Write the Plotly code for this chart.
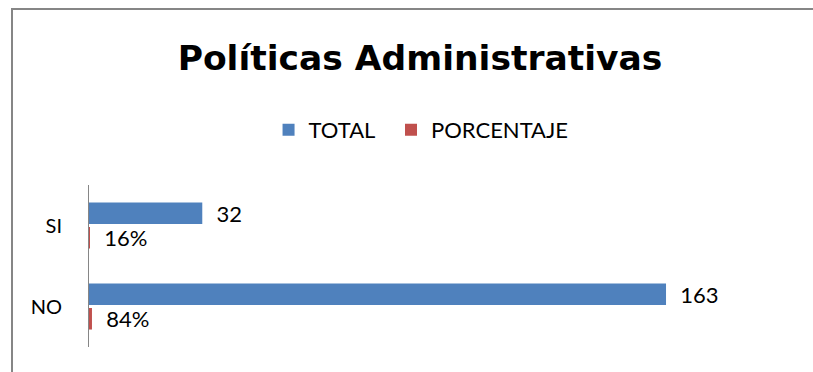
import plotly.graph_objects as go

categories = ["SI", "NO"]
total = [32, 163]
porcentaje = [0.16, 0.84]
series_names = ["TOTAL", "PORCENTAJE"]

FONT = "Lato"
TITLE_FONT = "DejaVu Sans"
PAD = "\u00a0" * 2

fig = go.Figure()
fig.add_trace(go.Bar(
    name=series_names[0] + "\u00a0\u00a0", y=categories, x=total, orientation="h",
    marker=dict(color="#4F81BD", line=dict(width=0)),
    text=total, texttemplate=PAD + "%{x}", textposition="outside",
    textfont=dict(family=FONT, size=22, color="#000000"),
    constraintext="none", cliponaxis=False,
))
fig.add_trace(go.Bar(
    name=series_names[1], y=categories, x=porcentaje, orientation="h",
    marker=dict(color="#C0504D", line=dict(width=0)),
    text=porcentaje, texttemplate=PAD + "%{x:.0%}", textposition="outside",
    textfont=dict(family=FONT, size=22, color="#000000"),
    constraintext="none", cliponaxis=False,
))

fig.update_layout(
    width=813, height=372,
    margin=dict(l=89, r=16, t=185, b=25),
    paper_bgcolor="#FFFFFF", plot_bgcolor="#FFFFFF",
    font=dict(family=FONT, color="#000000"),
    barmode="group", bargap=0.395, bargroupgap=0.12,
    title=dict(
        text="<b>Políticas Administrativas</b>",
        font=dict(family=TITLE_FONT, size=34.5, color="#000000"),
        x=420 / 813, xanchor="center", xref="container",
        y=1 - 58 / 372, yanchor="middle", yref="container",
    ),
    legend=dict(
        orientation="h", x=0.469, xanchor="center", y=1.34, yanchor="middle",
        font=dict(family=FONT, size=22, color="#000000"),
        traceorder="normal", itemclick=False,
    ),
    xaxis=dict(range=[0, 200], visible=False, showgrid=False, zeroline=False),
    yaxis=dict(
        type="category", autorange="reversed", showgrid=False, zeroline=False,
        showline=True, linecolor="#868686", linewidth=1,
        ticks="outside", ticklen=22, tickcolor="rgba(0,0,0,0)",
        tickfont=dict(family=FONT, size=20, color="#000000"),
    ),
    shapes=[dict(
        type="rect", xref="paper", yref="paper",
        x0=(12 - 89) / 708, x1=(830 - 89) / 708,
        y0=-0.5, y1=1 + (185 - 9) / 162,
        line=dict(color="#868686", width=2), fillcolor="rgba(0,0,0,0)", layer="below",
    )],
)

fig.write_html("out.html")
